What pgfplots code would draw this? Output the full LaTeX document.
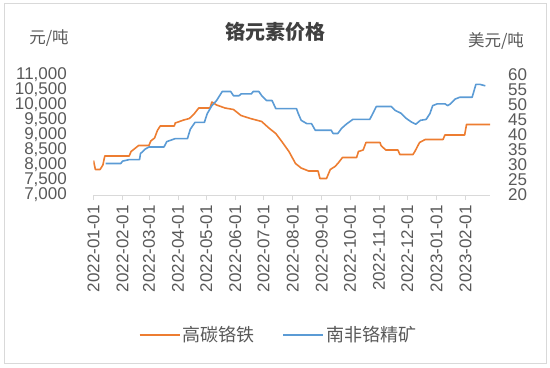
\documentclass[border=0pt]{standalone}
\usepackage{pgfplots}
\pgfplotsset{compat=1.18}
\usepackage{fontspec}
\setmainfont{Liberation Sans}
\newfontfamily\cjk{Noto Sans CJK SC}
\definecolor{orng}{RGB}{237,125,49}
\definecolor{blu}{RGB}{91,155,213}
\definecolor{txt}{RGB}{89,89,89}
\definecolor{ttl}{RGB}{64,64,64}
\definecolor{axc}{RGB}{217,217,217}
\pgfplotsset{
  common/.style={
    scale only axis, width=396.5bp, height=120bp,
    xmin=0, xmax=422,
    ticklabel style={font=\fontsize{17bp}{18bp}\selectfont, text=txt},
    scaled y ticks=false,
    /pgf/number format/fixed,
    /pgf/number format/1000 sep={,},
    /pgf/number format/assume math mode=true,
  }
}
\begin{document}
\begin{tikzpicture}[x=1bp,y=1bp]
\begin{axis}[common,
  axis x line*=bottom, axis y line*=left,
  x axis line style={draw=axc, line width=0.75bp, -},
  y axis line style={draw=none},
  xtick={0,31,59,90,120,151,181,212,243,273,304,334,365,396},
  xticklabels={2022-01-01,2022-02-01,2022-03-01,2022-04-01,2022-05-01,2022-06-01,2022-07-01,2022-08-01,2022-09-01,2022-10-01,2022-11-01,2022-12-01,2023-01-01,2023-02-01},
  xtick style={draw=axc, line width=0.75bp}, tick align=outside, major tick length=5bp,
  xticklabel style={rotate=90, anchor=east, inner sep=0pt},
  xticklabel shift=5bp,
  ymin=7000, ymax=11000, ytick={7000,7500,...,11000},
  ytick style={draw=none},
  yticklabel style={anchor=east, inner sep=0pt},
  yticklabel shift=21.5bp,
]
\addplot[orng, line width=1.6bp, line join=round] coordinates {
(0,8150)(2,7850)(7,7850)(10,8000)(12,8300)(38,8300)(40,8450)(44,8550)(48,8650)(59,8650)(61,8800)(65,8900)(68,9150)(71,9300)(86,9300)(87,9400)(96,9500)(102,9550)(107,9700)(112,9900)(124,9900)(126,10100)(131,10000)(140,9900)(149,9850)(157,9650)(167,9550)(179,9450)(186,9250)(194,9050)(200,8800)(208,8450)(215,8050)(221,7900)(229,7800)(239,7800)(241,7550)(248,7550)(252,7850)(257,7950)(260,8050)(265,8250)(280,8250)(282,8450)(287,8500)(290,8750)(305,8750)(306,8650)(311,8500)(324,8500)(326,8350)(340,8350)(342,8450)(347,8750)(353,8850)(372,8850)(374,9000)(395,9000)(397,9350)(422,9350)
};
\end{axis}
\begin{axis}[common,
  axis x line=none, axis y line*=right,
  y axis line style={draw=none},
  ymin=20, ymax=60, ytick={20,25,...,60},
  ytick style={draw=none},
  yticklabel style={anchor=west, inner sep=0pt},
  yticklabel shift=18bp,
  legend style={draw=none, fill=none, at={(0.4666,-1.167)}, anchor=center,
    font=\cjk\fontsize{18bp}{20bp}\selectfont, text=txt,
    /tikz/every even column/.append style={column sep=26bp}},
  legend columns=2,
  legend image code/.code={\draw[#1] (0bp,0bp) -- (40bp,0bp);},
]
\addlegendimage{orng, line width=1.6bp}
\addlegendentry{高碳铬铁}
\addplot[blu, line width=1.6bp, line join=round] coordinates {
(13,30.5)(29,30.5)(31,31.3)(38,31.8)(49,31.8)(50,33.8)(55,35.3)(59,36)(75,36)(78,37.8)(87,38.8)(100,38.8)(103,41.9)(108,44.2)(118,44.2)(121,47.1)(126,49.8)(131,51.5)(137,54.5)(146,54.5)(149,53.1)(155,53.1)(157,53.7)(168,53.7)(170,54.5)(176,54.5)(179,53.1)(184,51.5)(190,51.5)(194,48.8)(216,48.8)(218,47.1)(221,44.9)(227,43.8)(232,43.8)(236,41.6)(253,41.6)(255,40.5)(260,40.5)(264,42.2)(269,43.6)(276,45.2)(294,45.2)(298,47.6)(301,49.5)(317,49.5)(321,48.2)(327,47.3)(333,45.5)(338,44.4)(343,43.6)(348,44.9)(354,45.2)(358,47.1)(361,49.8)(366,50.4)(374,50.4)(377,49.8)(380,50.4)(385,52)(390,52.6)(403,52.6)(407,56.9)(411,56.9)(417,56.4)
};
\addlegendentry{南非铬精矿}
\end{axis}
\node[font=\cjk\bfseries\fontsize{20bp}{22bp}\selectfont, text=ttl] at (181.5,163) {铬元素价格};
\node[font=\cjk\fontsize{16.5bp}{18bp}\selectfont, text=txt] at (-44.5,157) {元/吨};
\node[font=\cjk\fontsize{16.5bp}{18bp}\selectfont, text=txt] at (402.5,154) {美元/吨};
\pgfresetboundingbox
\draw[axc, line width=0.75bp] (-89.5,-168) rectangle (452.5,192);
\useasboundingbox (-93.5,-172) rectangle (456.5,195);
\end{tikzpicture}
\end{document}
